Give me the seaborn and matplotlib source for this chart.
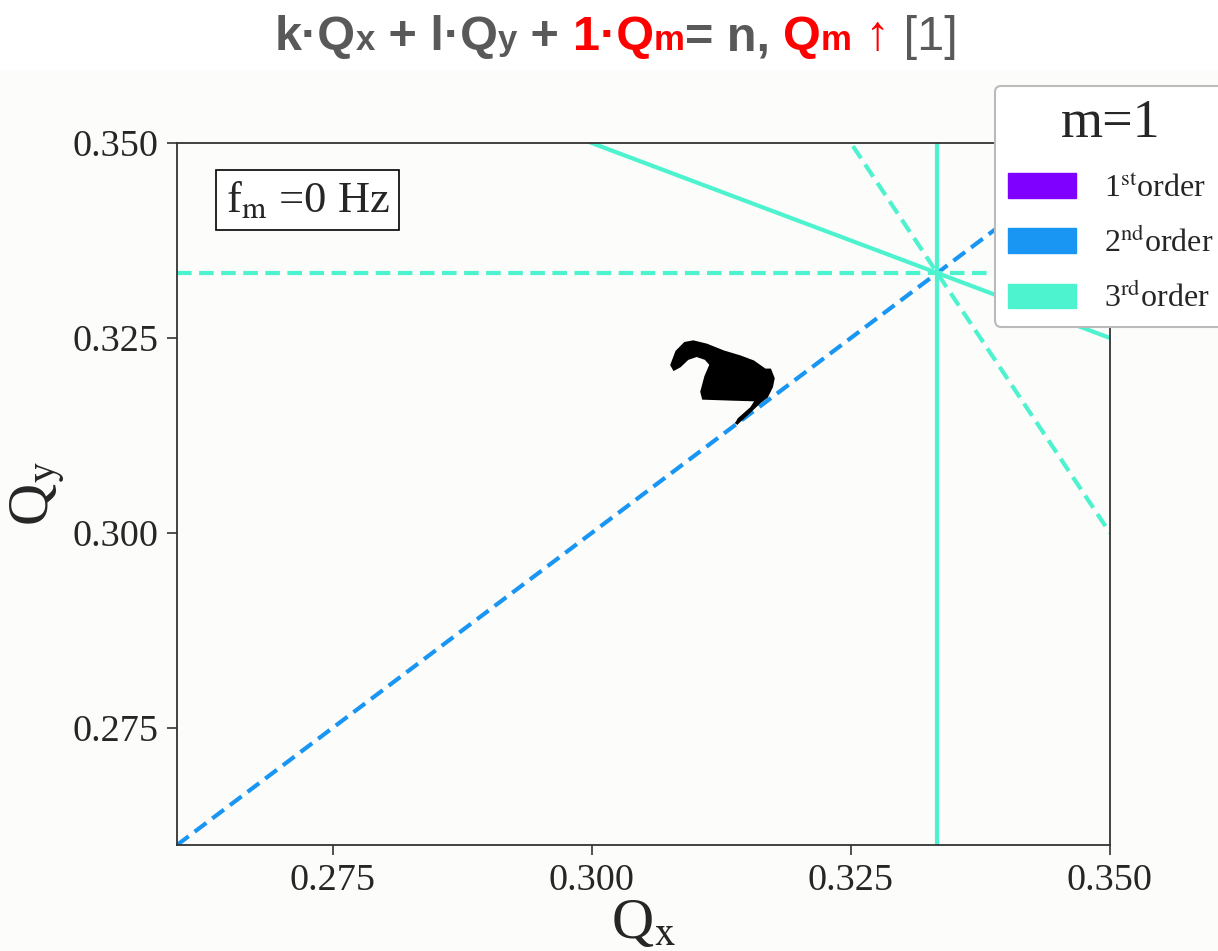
import numpy as np
import pandas as pd
import matplotlib
matplotlib.use("Agg")
import matplotlib.pyplot as plt
import seaborn as sns
from matplotlib.patches import Patch, Rectangle

# ---------------- data ----------------
# resonance lines k*Qx + l*Qy = n
res_k = [1, 0, 1, 1, 2]
res_l = [-1, 1, 0, 2, 1]
res_n = [0, 1 / 3, 1 / 3, 1, 1]
res_order = [2, 3, 3, 3, 3]
res_dashed = [True, True, False, False, True]

order_labels = ["1$^{\\mathrm{st}}$order", "2$^{\\mathrm{nd}}$order", "3$^{\\mathrm{rd}}$order"]
order_values = [0.0, 0.2, 0.4]  # position in rainbow colormap

# tune footprint outline (black shape)
blob_qx = [0.30772, 0.30820, 0.30900, 0.30980, 0.31109, 0.31270, 0.31431, 0.31559,
           0.31672, 0.31720, 0.31752, 0.31736, 0.31688, 0.31624, 0.31495, 0.31395,
           0.31420, 0.31540, 0.31592, 0.31366, 0.31077, 0.31061, 0.31100, 0.31150,
           0.31100, 0.31013, 0.30925, 0.30850, 0.30795]
blob_qy = [0.32154, 0.32324, 0.32432, 0.32452, 0.32410, 0.32324, 0.32260, 0.32196,
           0.32090, 0.32090, 0.31983, 0.31876, 0.31747, 0.31683, 0.31520, 0.31400,
           0.31460, 0.31600, 0.31705, 0.31714, 0.31727, 0.31811, 0.32004, 0.32160,
           0.32235, 0.32275, 0.32235, 0.32140, 0.32100]

x_ticks = [0.275, 0.300, 0.325, 0.350]
y_ticks = [0.275, 0.300, 0.325, 0.350]
q_min, q_max = 0.26, 0.35

# ---------------- style ----------------
sns.set_theme(style="ticks")
plt.rcParams["font.family"] = ["Liberation Serif", "DejaVu Serif"]
plt.rcParams["mathtext.fontset"] = "stix"
plt.rcParams["axes.edgecolor"] = "#333333"

W, H = 1218, 951
fig = plt.figure(figsize=(W / 100, H / 100), dpi=100, facecolor="white")
# off-white panel below the title strip
fig.patches.append(Rectangle((0, 0), 1, 1 - 70 / H, transform=fig.transFigure,
                             facecolor="#fcfcfa", edgecolor="none", zorder=-10))

ax = fig.add_axes([177 / W, 1 - 845 / H, (1110 - 177) / W, (845 - 143) / H])
ax.set_facecolor("#fcfcfa")

cmap = plt.get_cmap("rainbow")
order_colors = [cmap(v) for v in order_values]

# ---------------- resonance lines ----------------
rows = []
for i, (k, l, n) in enumerate(zip(res_k, res_l, res_n)):
    if l != 0:
        qx = np.array([q_min, q_max])
        qy = (n - k * qx) / l
    else:
        qy = np.array([q_min, q_max])
        qx = np.full(2, n / k)
    for a, b in zip(qx, qy):
        rows.append(dict(line=i, Qx=a, Qy=b))
df = pd.DataFrame(rows)

for i in range(len(res_k)):
    sub = df[df.line == i]
    col = order_colors[res_order[i] - 1]
    ls = (0, (3.5, 1.8)) if res_dashed[i] else "-"
    sns.lineplot(data=sub, x="Qx", y="Qy", ax=ax, color=col, linewidth=3.0,
                 linestyle=ls, sort=False, estimator=None, legend=False)

# footprint
ax.fill(blob_qx, blob_qy, color="black", lw=2.0, zorder=5)

ax.set_xlim(q_min, q_max)
ax.set_ylim(q_min, q_max)
ax.set_xticks(x_ticks)
ax.set_yticks(y_ticks)
ax.set_xticklabels([f"{v:.3f}" for v in x_ticks])
ax.set_yticklabels([f"{v:.3f}" for v in y_ticks])
ax.tick_params(labelsize=27.5, length=7, width=1.2, color="#333333", pad=6)
for s in ax.spines.values():
    s.set_linewidth(1.3)
ax.set_xlabel("Q$_{\\mathrm{x}}$", fontsize=42, labelpad=0)
ax.set_ylabel("Q$_{\\mathrm{y}}$", fontsize=42, labelpad=4)

ax.text(0.052, 0.9188, "f$_{\\mathrm{m}}$ =0 Hz", transform=ax.transAxes,
        fontsize=32, va="center", ha="left",
        bbox=dict(boxstyle="square,pad=0.22", facecolor="white", edgecolor="black", lw=1.2))

# legend
handles = [Patch(facecolor=c, edgecolor=c) for c in order_colors]
leg = fig.legend(handles, order_labels, title="m=1", loc="upper left",
                 bbox_to_anchor=(995 / W, 1 - 86 / H), fontsize=23, title_fontsize=39,
                 frameon=True, fancybox=True, shadow=False, framealpha=1.0,
                 edgecolor="#bbbbbb", handlelength=2.15, handleheight=0.8,
                 handletextpad=0.85, labelspacing=0.75, borderpad=0.4, borderaxespad=0)
leg.get_frame().set_linewidth(1.5)

# ---------------- title (multi-coloured) ----------------
grey = "#595959"
red = "#ff0000"
sans = ["Liberation Sans", "DejaVu Sans"]
big, small = 35, 25
pieces = [
    ("k·Q", grey, big, "bold"), ("x", grey, small, "bold"),
    (" + l·Q", grey, big, "bold"), ("y", grey, small, "bold"),
    (" + ", grey, big, "bold"), ("1·Q", red, big, "bold"), ("m", red, small, "bold"),
    ("= n, ", grey, big, "bold"), ("Q", red, big, "bold"), ("m", red, small, "bold"),
    (" ↑", red, big, "normal"), (" [1]", grey, big, "normal"),
]
fig.canvas.draw()
renderer = fig.canvas.get_renderer()
texts = []
y = 1 - 50 / H
for s, c, fs, fw in pieces:
    t = fig.text(0, y, s, color=c, fontsize=fs, fontweight=fw, family=sans,
                 ha="left", va="baseline")
    texts.append(t)
widths = [t.get_window_extent(renderer).width for t in texts]
total = sum(widths)
x0 = 616 - total / 2
for t, w in zip(texts, widths):
    t.set_x(x0 / W)
    x0 += w

fig.savefig("out.png", dpi=100, facecolor=fig.get_facecolor())
